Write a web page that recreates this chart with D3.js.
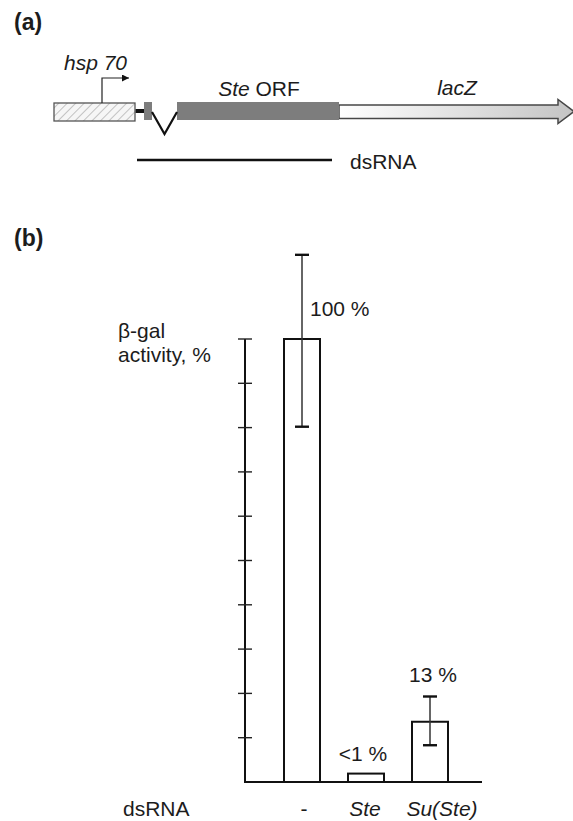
<!DOCTYPE html>
<html><head><meta charset="utf-8">
<script src="https://cdn.jsdelivr.net/npm/d3@7"></script>
<style>
body{margin:0;background:#fff}
svg{display:block}
text{font-family:"Liberation Sans",Arial,Helvetica,sans-serif;fill:#1c1c1c}
</style>
</head><body>
<svg id="c" width="573" height="821"></svg>
<script>
// ---------- data: panel (b) ----------
const categories = ["-", "Ste", "Su(Ste)"];
const categoryItalic = [false, true, true];
const values = [100, 1.9, 13.6];
const errLow = [80.2, null, 8.3];
const errHigh = [119, null, 19.3];
const valueLabels = ["100 %", "<1 %", "13 %"];
const yTicks = [0, 10, 20, 30, 40, 50, 60, 70, 80, 90, 100];

// ---------- data: panel (a) construct (relative units along the construct) ----------
const promoter = [0, 81];
const linker = [81, 90];
const exon1 = [90, 98];
const intron = [98, 123];
const orf = [123, 285];
const lacZ = [285, 520];
const dsRNA = [83, 278];
const tssPos = 48;

const svg = d3.select("#c");
const FS = 21;
const PFS = 23;

// ---------- panel (a) ----------
const gx = d3.scaleLinear().domain([0, 520]).range([54, 574]);
const defs = svg.append("defs");
const pat = defs.append("pattern").attr("id", "hatch").attr("patternUnits", "userSpaceOnUse")
  .attr("width", 6).attr("height", 6).attr("patternTransform", "rotate(45)");
pat.append("rect").attr("width", 6).attr("height", 6).attr("fill", "#f6f6f6");
pat.append("line").attr("x1", 0).attr("y1", 0).attr("x2", 0).attr("y2", 6)
  .attr("stroke", "#b5b5b5").attr("stroke-width", 1.6);
const grad = defs.append("linearGradient").attr("id", "lacz").attr("gradientUnits", "userSpaceOnUse")
  .attr("x1", gx(lacZ[0])).attr("x2", gx(lacZ[1])).attr("y1", 0).attr("y2", 0);
grad.append("stop").attr("offset", 0).attr("stop-color", "#ffffff");
grad.append("stop").attr("offset", 1).attr("stop-color", "#c4c4c4");
defs.append("marker").attr("id", "ah").attr("viewBox", "0 0 10 10").attr("refX", 10).attr("refY", 5)
  .attr("markerWidth", 10).attr("markerHeight", 7).attr("markerUnits", "userSpaceOnUse").attr("orient", "auto")
  .append("path").attr("d", "M0,0L10,5L0,10Z").attr("fill", "#111");

const yMid = 111;
svg.append("text").attr("x", 14).attr("y", 30).attr("font-weight", "bold").attr("font-size", PFS).text("(a)");

// lacZ arrow
const hx = gx(lacZ[1]) - 16;
const arrowPath = d3.path();
arrowPath.moveTo(gx(lacZ[0]), 105); arrowPath.lineTo(hx, 105); arrowPath.lineTo(hx, 99.5);
arrowPath.lineTo(gx(lacZ[1]), yMid + 0.5); arrowPath.lineTo(hx, 123.5); arrowPath.lineTo(hx, 118.5);
arrowPath.lineTo(gx(lacZ[0]), 118.5); arrowPath.closePath();
svg.append("path").attr("d", arrowPath.toString()).attr("fill", "url(#lacz)")
  .attr("stroke", "#474747").attr("stroke-width", 1.5);

// promoter box
svg.append("rect").attr("x", gx(promoter[0])).attr("y", 103).attr("width", gx(promoter[1]) - gx(promoter[0]))
  .attr("height", 18).attr("fill", "url(#hatch)").attr("stroke", "#555").attr("stroke-width", 1.3);
// linker
svg.append("line").attr("x1", gx(linker[0]) + 0.6).attr("x2", gx(linker[1])).attr("y1", yMid).attr("y2", yMid)
  .attr("stroke", "#111").attr("stroke-width", 4);
// exons
svg.append("rect").attr("x", gx(exon1[0])).attr("y", 102).attr("width", gx(exon1[1]) - gx(exon1[0]))
  .attr("height", 18).attr("fill", "#7d7d7d");
svg.append("rect").attr("x", gx(orf[0])).attr("y", 102).attr("width", gx(orf[1]) - gx(orf[0]))
  .attr("height", 18).attr("fill", "#7d7d7d");
// intron
svg.append("path").attr("d", d3.line()([[gx(intron[0]), 112], [(gx(intron[0]) + gx(intron[1])) / 2, 134], [gx(intron[1]), 112]]))
  .attr("fill", "none").attr("stroke", "#111").attr("stroke-width", 2.2);
// TSS arrow
svg.append("path").attr("d", d3.line()([[gx(tssPos), 103], [gx(tssPos), 78], [gx(tssPos) + 27, 78]]))
  .attr("fill", "none").attr("stroke", "#222").attr("stroke-width", 1.2).attr("marker-end", "url(#ah)");
// dsRNA line
svg.append("line").attr("x1", gx(dsRNA[0])).attr("x2", gx(dsRNA[1])).attr("y1", 160).attr("y2", 160)
  .attr("stroke", "#111").attr("stroke-width", 2.5);

svg.append("text").attr("x", 64).attr("y", 70).attr("font-size", FS).attr("font-style", "italic").text("hsp 70");
const orfT = svg.append("text").attr("x", (gx(orf[0]) + gx(orf[1])) / 2 + 1).attr("y", 96).attr("font-size", FS).attr("text-anchor", "middle");
orfT.append("tspan").attr("font-style", "italic").text("Ste");
orfT.append("tspan").text(" ORF");
svg.append("text").attr("x", 457).attr("y", 95).attr("font-size", FS).attr("font-style", "italic").attr("text-anchor", "middle").text("lacZ");
svg.append("text").attr("x", 350).attr("y", 169).attr("font-size", FS).text("dsRNA");

// ---------- panel (b) ----------
svg.append("text").attr("x", 14).attr("y", 246).attr("font-weight", "bold").attr("font-size", PFS).text("(b)");

const y = d3.scaleLinear().domain([0, 100]).range([782, 339]);
const x = d3.scaleBand().domain(categories).range([284, 448]).paddingInner(0.4375).paddingOuter(0);
const axisX = 245;

// y axis
svg.append("line").attr("x1", axisX).attr("x2", axisX).attr("y1", y(100)).attr("y2", y(0) + 1)
  .attr("stroke", "#111").attr("stroke-width", 2);
svg.append("g").selectAll("line").data(yTicks.filter(d => d > 0)).join("line")
  .attr("x1", axisX - 7).attr("x2", axisX + 7).attr("y1", d => y(d)).attr("y2", d => y(d))
  .attr("stroke", "#222").attr("stroke-width", 1.4);
// baseline
svg.append("line").attr("x1", axisX - 1).attr("x2", 482).attr("y1", y(0)).attr("y2", y(0))
  .attr("stroke", "#111").attr("stroke-width", 2);

// bars
svg.append("g").selectAll("rect").data(categories).join("rect")
  .attr("x", d => x(d)).attr("width", x.bandwidth())
  .attr("y", (d, i) => y(values[i])).attr("height", (d, i) => y(0) - y(values[i]))
  .attr("fill", "#fff").attr("stroke", "#111").attr("stroke-width", 2);

// error bars
categories.forEach((c, i) => {
  if (errLow[i] == null) return;
  const cx = x(c) + x.bandwidth() / 2;
  const g = svg.append("g");
  g.append("line").attr("x1", cx).attr("x2", cx).attr("y1", y(errHigh[i])).attr("y2", y(errLow[i]))
    .attr("stroke", "#333").attr("stroke-width", 1.5);
  [errHigh[i], errLow[i]].forEach(v => {
    g.append("line").attr("x1", cx - 7).attr("x2", cx + 7).attr("y1", y(v)).attr("y2", y(v))
      .attr("stroke", "#111").attr("stroke-width", 2.4);
  });
});

// value labels
categories.forEach((c, i) => {
  const cx = x(c) + x.bandwidth() / 2;
  const t = svg.append("text").attr("font-size", FS).text(valueLabels[i]);
  if (i === 0) {
    t.attr("x", cx + 8).attr("y", y(values[i]) - 23);
  } else {
    const top = errHigh[i] != null ? errHigh[i] : values[i];
    t.attr("x", cx + (i === 2 ? 3 : -3)).attr("y", y(top) - (i === 2 ? 15 : 13)).attr("text-anchor", "middle");
  }
});

// y label
const yl = svg.append("text").attr("x", 118).attr("y", 338).attr("font-size", FS);
yl.append("tspan").attr("x", 118).text("β-gal");
yl.append("tspan").attr("x", 118).attr("dy", 24).text("activity, %");

// category labels
svg.append("text").attr("x", 123).attr("y", 816).attr("font-size", FS).text("dsRNA");
svg.append("g").selectAll("text").data(categories).join("text")
  .attr("x", (d, i) => x(d) + x.bandwidth() / 2 + (i === 2 ? 12 : (i === 0 ? 2 : -1)))
  .attr("y", 816).attr("font-size", FS).attr("text-anchor", "middle")
  .attr("font-style", (d, i) => categoryItalic[i] ? "italic" : "normal")
  .text(d => d);
</script>
</body></html>
